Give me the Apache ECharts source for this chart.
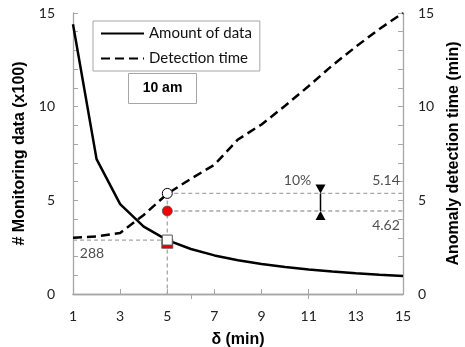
<!DOCTYPE html>
<html>
<head>
<meta charset="utf-8">
<script src="https://cdn.jsdelivr.net/npm/echarts@6/dist/echarts.min.js"></script>
<style>
  html, body { margin: 0; padding: 0; background: #fff; }
  #chart { width: 465px; height: 347px; }
</style>
</head>
<body>
<div id="chart"></div>
<script>
// δ (min)
const deltas = [1, 2, 3, 4, 5, 6, 7, 8, 9, 10, 11, 12, 13, 14, 15];
// # monitoring data (x100)
const amountOfData = [14.4, 7.2, 4.8, 3.6, 2.88, 2.4, 2.06, 1.8, 1.6, 1.44, 1.31, 1.2, 1.11, 1.03, 0.96];
// anomaly detection time (min)
const detectionTime = [3.0, 3.07, 3.26, 4.22, 5.35, 6.15, 6.9, 8.25, 9.05, 10.05, 11.1, 12.2, 13.2, 14.15, 15.0];

const xTicks = [1, 3, 5, 7, 9, 11, 13, 15];
const topTicks = [6, 11];
const yLabels = [0, 5, 10, 15];

// highlighted points at δ = 5
const refDelta = 5;
const amountPoint = 2.88;
const amountPointRed = 2.68;
const timeOpen = 5.37;
const timeRed = 4.43;
const amountText = '288';
const timeOpenText = '5.14';
const timeRedText = '4.62';
// 10% bar
const barDelta = 11.5;
const barText = '10%';

const FONT = 'Lato, "Open Sans", sans-serif';
const BOLD = '"Liberation Sans", Arial, sans-serif';
const GRAY = '#a6a6a6';

const chart = echarts.init(document.getElementById('chart'), null, { renderer: 'canvas' });

function guide(points, yIdx) {
  return {
    type: 'line', yAxisIndex: yIdx, data: points, symbol: 'none', silent: true, z: 1,
    lineStyle: { color: GRAY, width: 1.3, type: [4, 3] }
  };
}
function textPoint(x, y, yIdx, text, pos, offset, align) {
  return {
    type: 'scatter', yAxisIndex: yIdx, data: [[x, y]], symbolSize: 0, silent: true,
    label: {
      show: true, formatter: text, position: pos, offset: offset, align: align,
      fontFamily: FONT, fontSize: 14, color: '#222'
    }
  };
}

const yAxisBase = {
  type: 'value', min: 0, max: 15, interval: 1,
  axisLine: { show: true, lineStyle: { color: GRAY, width: 1.3 } },
  axisTick: { show: true, inside: true, length: 5, lineStyle: { color: GRAY } },
  splitLine: { show: false },
  nameLocation: 'middle', nameRotate: 90,
  nameTextStyle: { fontFamily: BOLD, fontWeight: 'bold', fontSize: 16, color: '#000' }
};

chart.setOption({
  animation: false,
  grid: { left: 73, right: 62, top: 13, bottom: 53, outerBoundsMode: 'none', containLabel: false },
  legend: {
    data: ['Amount of data', 'Detection time'],
    orient: 'vertical', left: 93, top: 21,
    padding: [5, 8, 5, 7],
    borderColor: GRAY, borderWidth: 1,
    itemWidth: 43, itemHeight: 14, itemGap: 10,
    itemStyle: { opacity: 0 },
    textStyle: { fontFamily: FONT, fontSize: 15, color: '#111' }
  },
  xAxis: [
    {
      type: 'value', min: 1, max: 15,
      name: 'δ (min)', nameLocation: 'middle', nameGap: 38,
      nameTextStyle: { fontFamily: BOLD, fontWeight: 'bold', fontSize: 16, color: '#000' },
      axisLine: { lineStyle: { color: GRAY, width: 1.3 } },
      axisTick: { show: true, inside: true, length: 5, customValues: xTicks, lineStyle: { color: GRAY } },
      axisLabel: { customValues: xTicks, margin: 15, fontFamily: FONT, fontSize: 14, color: '#222' },
      splitLine: { show: false }
    },
    {
      type: 'value', min: 1, max: 15, position: 'top',
      axisLine: { show: true, lineStyle: { color: GRAY, width: 1.3 } },
      axisTick: { show: true, inside: true, length: 5, customValues: topTicks, lineStyle: { color: GRAY } },
      axisLabel: { show: false },
      splitLine: { show: false }
    }
  ],
  yAxis: [
    Object.assign({}, yAxisBase, {
      position: 'left', name: '# Monitoring data (x100)', nameGap: 39,
      axisLabel: { margin: 18, fontFamily: FONT, fontSize: 14, color: '#222',
        formatter: v => (yLabels.indexOf(v) >= 0 ? String(v) : '') }
    }),
    Object.assign({}, yAxisBase, {
      position: 'right', name: 'Anomaly detection time (min)', nameGap: 42,
      axisLabel: { margin: 15, fontFamily: FONT, fontSize: 14, color: '#222',
        formatter: v => (yLabels.indexOf(v) >= 0 ? String(v) : '') }
    })
  ],
  series: [
    guide([[1, amountPoint], [refDelta, amountPoint]], 0),
    guide([[refDelta, timeOpen], [refDelta, 0]], 1),
    guide([[refDelta, timeOpen], [15, timeOpen]], 1),
    guide([[refDelta, timeRed], [15, timeRed]], 1),
    {
      name: 'Amount of data', type: 'line', yAxisIndex: 0, z: 3,
      data: deltas.map((d, i) => [d, amountOfData[i]]),
      symbol: 'none', itemStyle: { color: '#000' },
      lineStyle: { color: '#000', width: 2.5 }
    },
    {
      name: 'Detection time', type: 'line', yAxisIndex: 1, z: 3,
      data: deltas.map((d, i) => [d, detectionTime[i]]),
      symbol: 'none', itemStyle: { color: '#000' },
      lineStyle: { color: '#000', width: 2.5, type: [9, 5] }
    },
    // markers at δ = 5
    {
      type: 'scatter', yAxisIndex: 0, z: 4, symbol: 'rect', symbolSize: [11, 9],
      data: [[refDelta, amountPointRed]],
      itemStyle: { color: '#e00000', borderColor: '#555', borderWidth: 0.8, opacity: 1 }
    },
    {
      type: 'scatter', yAxisIndex: 0, z: 5, symbol: 'rect', symbolSize: 10,
      data: [[refDelta, amountPoint]],
      itemStyle: { color: '#fff', borderColor: '#555', borderWidth: 1, opacity: 1 }
    },
    {
      type: 'scatter', yAxisIndex: 1, z: 5, symbol: 'circle', symbolSize: 10,
      data: [[refDelta, timeOpen]],
      itemStyle: { color: '#fff', borderColor: '#000', borderWidth: 1, opacity: 1 }
    },
    {
      type: 'scatter', yAxisIndex: 1, z: 5, symbol: 'circle', symbolSize: 10,
      data: [[refDelta, timeRed]],
      itemStyle: { color: '#f00000', borderColor: '#555', borderWidth: 0.8, opacity: 1 }
    },
    // 10% bar
    {
      type: 'line', yAxisIndex: 1, z: 4, symbol: 'none',
      data: [[barDelta, timeOpen], [barDelta, timeRed]],
      lineStyle: { color: '#000', width: 1.5 }
    },
    {
      type: 'scatter', yAxisIndex: 1, z: 4, symbol: 'triangle', symbolSize: [10, 9],
      symbolRotate: 180, symbolOffset: [0, -4.5],
      data: [[barDelta, timeOpen]], itemStyle: { color: '#000', opacity: 1 }
    },
    {
      type: 'scatter', yAxisIndex: 1, z: 4, symbol: 'triangle', symbolSize: [10, 9],
      symbolOffset: [0, 4.5],
      data: [[barDelta, timeRed]], itemStyle: { color: '#000', opacity: 1 }
    },
    textPoint(1, amountPoint, 0, amountText, 'bottom', [19, 1], 'center'),
    textPoint(15, timeOpen, 1, timeOpenText, 'top', [-17, -1], 'center'),
    textPoint(15, timeRed, 1, timeRedText, 'bottom', [-17, 2], 'center'),
    textPoint(barDelta, timeOpen, 1, barText, 'top', [-23, -1], 'center')
  ],
  graphic: [
    {
      type: 'group', left: 128, top: 73,
      children: [
        { type: 'rect', shape: { x: 0, y: 0, width: 68, height: 30 },
          style: { fill: '#fff', stroke: GRAY, lineWidth: 1 } },
        { type: 'text', x: 34, y: 15,
          style: { text: '10 am', fill: '#000', font: 'bold 14px ' + BOLD,
            textAlign: 'center', textVerticalAlign: 'middle' } }
      ]
    }
  ]
});
</script>
</body>
</html>
